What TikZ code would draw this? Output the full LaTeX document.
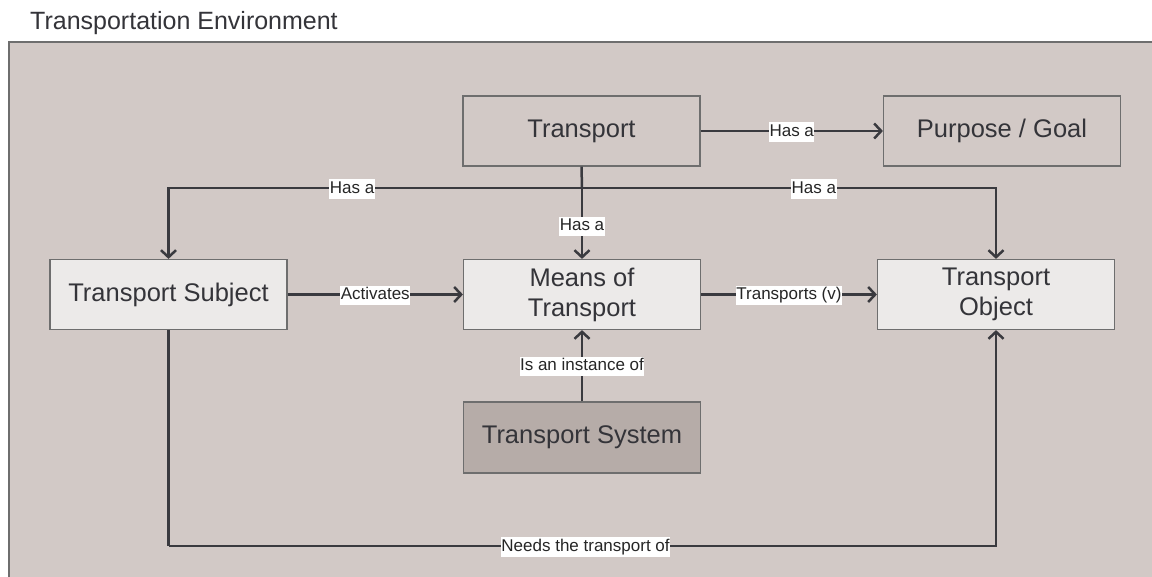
\documentclass[tikz,border=0pt]{standalone}
\usepackage{fontspec}
\setmainfont{Liberation Sans}
\usetikzlibrary{arrows.meta}
\definecolor{bgc}{RGB}{210,201,198}
\definecolor{lightbox}{RGB}{236,234,233}
\definecolor{darkbox}{RGB}{182,172,168}
\definecolor{edgec}{RGB}{110,110,110}
\definecolor{linec}{RGB}{58,58,63}
\definecolor{txtc}{RGB}{52,52,57}
\tikzset{
  box/.style={draw=edgec, line width=1.2pt, minimum width=237pt, minimum height=70pt,
    inner sep=2pt, align=center, text=txtc, font=\fontsize{25.5}{30}\selectfont},
  plainbox/.style={box, fill=bgc},
  lightfill/.style={box, fill=lightbox},
  darkfill/.style={box, fill=darkbox},
  conn/.style={draw=linec, line width=2.5pt},
  arr/.style={conn, -{Straight Barb[length=7pt,width=15pt,line width=2.5pt]}},
  lbl/.style={fill=white, inner xsep=0.5pt, inner ysep=1pt, text=black!85,
    font=\fontsize{17}{19}\selectfont, text height=13pt, text depth=4.5pt, yshift=-1pt},
}
\begin{document}
\begin{tikzpicture}[x=1pt,y=-1pt]
\useasboundingbox (0,0) rectangle (1152,577);
\fill[white] (0,0) rectangle (1152,577);
\draw[draw=edgec, line width=1.5pt, fill=bgc] (9,42) rectangle (1170,600);
\node[anchor=base west, text=txtc, font=\fontsize{25}{30}\selectfont, inner sep=0pt] (title) at (30,30) {Transportation Environment};

\node[plainbox] (transport) at (581.5,131) {Transport};
\node[plainbox] (purpose) at (1002,131) {Purpose / Goal};
\node[lightfill] (subject) at (168.5,294.5) {Transport Subject};
\node[lightfill] (means) at (582,294.5) {Means of\\Transport};
\node[lightfill] (object) at (996,294.5) {Transport\\Object};
\node[darkfill, minimum height=71pt] (system) at (582,437.5) {Transport System};

\coordinate (j) at (582,188);
\coordinate (b) at (168.5,546);

\draw[arr] (transport.east) -- node[lbl]{Has a} (purpose.west);
\draw[conn] (transport.south) -- (j);
\draw[arr] (j) -- node[lbl, pos=0.53]{Has a} (means.north);
\draw[arr] (j) -| node[lbl, pos=0.278]{Has a} (subject.north);
\draw[arr] (j) -| node[lbl, pos=0.28]{Has a} (object.north);
\draw[arr] (subject.east) -- node[lbl]{Activates} (means.west);
\draw[arr] (means.east) -- node[lbl]{Transports (v)} (object.west);
\draw[arr] (system.north) -- node[lbl]{Is an instance of} (means.south);
\draw[conn] (subject.south) -- (b);
\draw[arr] (b) -| node[lbl, pos=0.252]{Needs the transport of} (object.south);
\end{tikzpicture}
\end{document}
